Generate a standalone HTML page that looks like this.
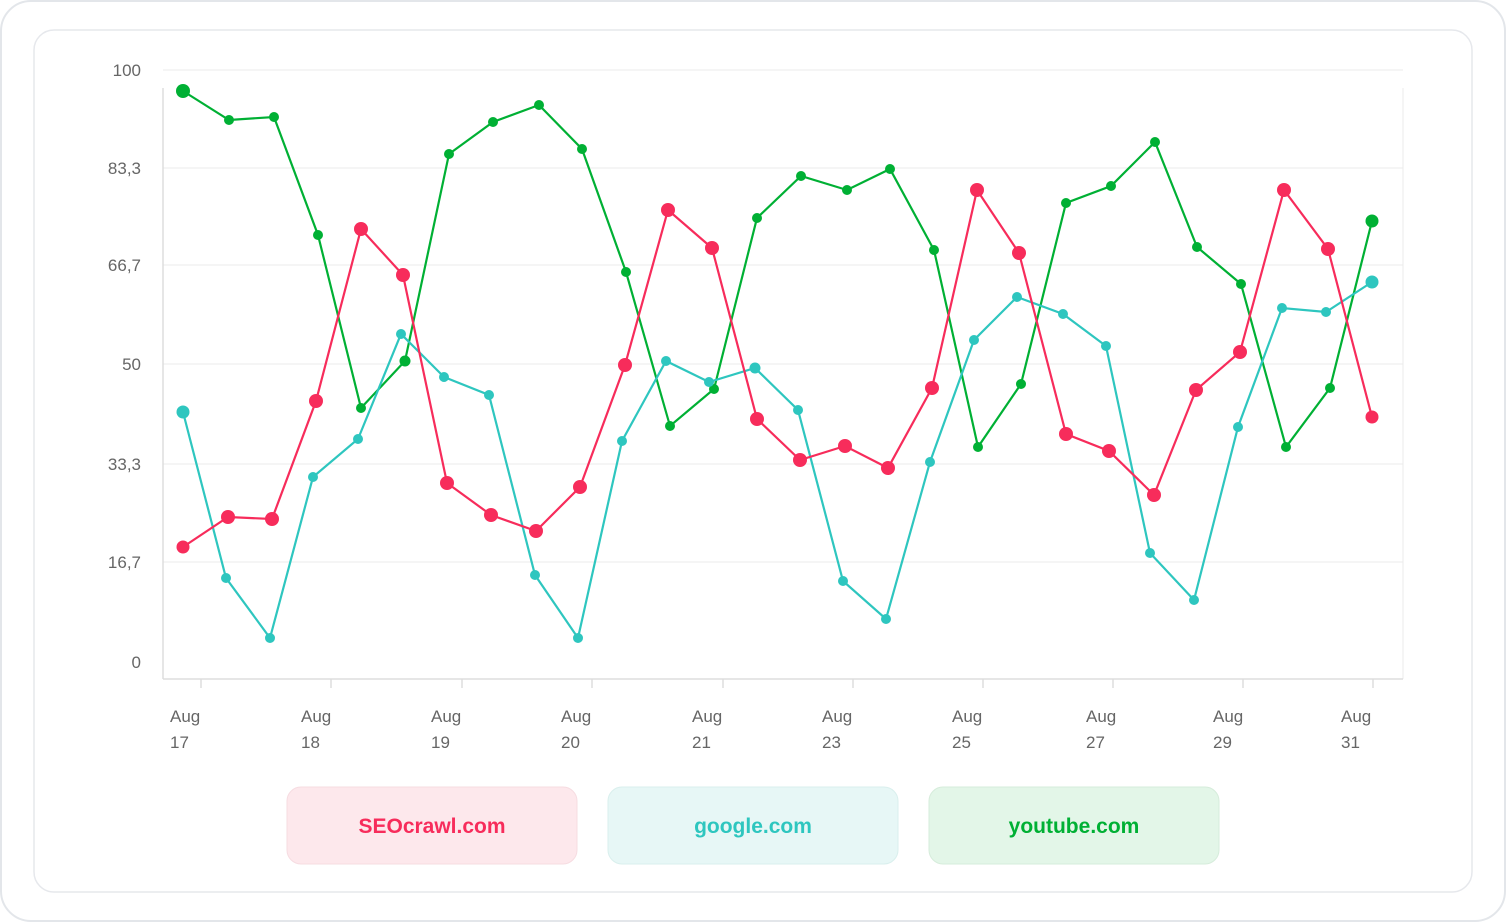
<!DOCTYPE html>
<html><head><meta charset="utf-8"><style>
html,body{margin:0;padding:0;background:#fff;}
svg{display:block;font-family:"Liberation Sans",sans-serif;}
</style></head><body>
<svg width="1506" height="922" viewBox="0 0 1506 922" xmlns="http://www.w3.org/2000/svg">
<rect x="1" y="1" width="1504" height="920" rx="30" fill="#fff" stroke="#e3e6ea" stroke-width="2"/>
<rect x="34" y="30" width="1438" height="862" rx="20" fill="#fff" stroke="#e6e8ec" stroke-width="1.5"/>
<g stroke="#ebebeb" stroke-width="1">
<line x1="163" y1="70" x2="1403" y2="70"/><line x1="163" y1="168" x2="1403" y2="168"/>
<line x1="163" y1="265" x2="1403" y2="265"/><line x1="163" y1="364" x2="1403" y2="364"/>
<line x1="163" y1="464" x2="1403" y2="464"/><line x1="163" y1="562" x2="1403" y2="562"/>
<line x1="1403" y1="88" x2="1403" y2="679"/>
</g>
<g stroke="#dddddd" stroke-width="1.5">
<line x1="163" y1="88" x2="163" y2="679"/><line x1="163" y1="679" x2="1403" y2="679"/>
<line x1="201" y1="679" x2="201" y2="688"/><line x1="331" y1="679" x2="331" y2="688"/><line x1="462" y1="679" x2="462" y2="688"/><line x1="592" y1="679" x2="592" y2="688"/><line x1="723" y1="679" x2="723" y2="688"/><line x1="853" y1="679" x2="853" y2="688"/><line x1="983" y1="679" x2="983" y2="688"/><line x1="1113" y1="679" x2="1113" y2="688"/><line x1="1243" y1="679" x2="1243" y2="688"/><line x1="1373" y1="679" x2="1373" y2="688"/>
</g>
<g fill="#666" font-size="17" text-anchor="end">
<text x="141" y="76">100</text><text x="141" y="174">83,3</text><text x="141" y="271">66,7</text><text x="141" y="370">50</text><text x="141" y="470">33,3</text><text x="141" y="568">16,7</text><text x="141" y="668">0</text>
</g>
<g fill="#666" font-size="17">
<text x="170" y="722">Aug</text><text x="170" y="748">17</text>
<text x="301" y="722">Aug</text><text x="301" y="748">18</text>
<text x="431" y="722">Aug</text><text x="431" y="748">19</text>
<text x="561" y="722">Aug</text><text x="561" y="748">20</text>
<text x="692" y="722">Aug</text><text x="692" y="748">21</text>
<text x="822" y="722">Aug</text><text x="822" y="748">23</text>
<text x="952" y="722">Aug</text><text x="952" y="748">25</text>
<text x="1086" y="722">Aug</text><text x="1086" y="748">27</text>
<text x="1213" y="722">Aug</text><text x="1213" y="748">29</text>
<text x="1341" y="722">Aug</text><text x="1341" y="748">31</text>
</g>
<!-- green -->
<polyline fill="none" stroke="#00b034" stroke-width="2.2" points="183,91 229,120 274,117 318,235 361,408 405,361 449,154 493,122 539,105 582,149 626,272 670,426 714,389 757,218 801,176 847,190 890,169 934,250 978,447 1021,384 1066,203 1111,186 1155,142 1197,247 1241,284 1286,447 1330,388 1372,221"/>
<g fill="#00b034">
<circle cx="183" cy="91" r="7"/><circle cx="229" cy="120" r="5"/><circle cx="274" cy="117" r="5"/><circle cx="318" cy="235" r="5"/><circle cx="361" cy="408" r="5"/><circle cx="405" cy="361" r="5.5"/><circle cx="449" cy="154" r="5"/><circle cx="493" cy="122" r="5"/><circle cx="539" cy="105" r="5"/><circle cx="582" cy="149" r="5"/><circle cx="626" cy="272" r="5"/><circle cx="670" cy="426" r="5"/><circle cx="714" cy="389" r="5"/><circle cx="757" cy="218" r="5"/><circle cx="801" cy="176" r="5"/><circle cx="847" cy="190" r="5"/><circle cx="890" cy="169" r="5"/><circle cx="934" cy="250" r="5"/><circle cx="978" cy="447" r="5"/><circle cx="1021" cy="384" r="5"/><circle cx="1066" cy="203" r="5"/><circle cx="1111" cy="186" r="5"/><circle cx="1155" cy="142" r="5"/><circle cx="1197" cy="247" r="5"/><circle cx="1241" cy="284" r="5"/><circle cx="1286" cy="447" r="5"/><circle cx="1330" cy="388" r="5"/><circle cx="1372" cy="221" r="6.5"/>
</g>
<!-- teal -->
<polyline fill="none" stroke="#2ec6bf" stroke-width="2.2" points="183,412 226,578 270,638 313,477 358,439 401,334 444,377 489,395 535,575 578,638 622,441 666,361 709,382 755,368 798,410 843,581 886,619 930,462 974,340 1017,297 1063,314 1106,346 1150,553 1194,600 1238,427 1282,308 1326,312 1372,282"/>
<g fill="#2ec6bf">
<circle cx="183" cy="412" r="6.5"/><circle cx="226" cy="578" r="5"/><circle cx="270" cy="638" r="5"/><circle cx="313" cy="477" r="5"/><circle cx="358" cy="439" r="5"/><circle cx="401" cy="334" r="5"/><circle cx="444" cy="377" r="5"/><circle cx="489" cy="395" r="5"/><circle cx="535" cy="575" r="5"/><circle cx="578" cy="638" r="5"/><circle cx="622" cy="441" r="5"/><circle cx="666" cy="361" r="5"/><circle cx="709" cy="382" r="5"/><circle cx="755" cy="368" r="5.5"/><circle cx="798" cy="410" r="5"/><circle cx="843" cy="581" r="5"/><circle cx="886" cy="619" r="5"/><circle cx="930" cy="462" r="5"/><circle cx="974" cy="340" r="5"/><circle cx="1017" cy="297" r="5"/><circle cx="1063" cy="314" r="5"/><circle cx="1106" cy="346" r="5"/><circle cx="1150" cy="553" r="5"/><circle cx="1194" cy="600" r="5"/><circle cx="1238" cy="427" r="5"/><circle cx="1282" cy="308" r="5"/><circle cx="1326" cy="312" r="5"/><circle cx="1372" cy="282" r="6.5"/>
</g>
<!-- red -->
<polyline fill="none" stroke="#f72c5b" stroke-width="2.2" points="183,547 228,517 272,519 316,401 361,229 403,275 447,483 491,515 536,531 580,487 625,365 668,210 712,248 757,419 800,460 845,446 888,468 932,388 977,190 1019,253 1066,434 1109,451 1154,495 1196,390 1240,352 1284,190 1328,249 1372,417"/>
<g fill="#f72c5b">
<circle cx="183" cy="547" r="6.5"/><circle cx="228" cy="517" r="7"/><circle cx="272" cy="519" r="7"/><circle cx="316" cy="401" r="7"/><circle cx="361" cy="229" r="7"/><circle cx="403" cy="275" r="7"/><circle cx="447" cy="483" r="7"/><circle cx="491" cy="515" r="7"/><circle cx="536" cy="531" r="7"/><circle cx="580" cy="487" r="7"/><circle cx="625" cy="365" r="7"/><circle cx="668" cy="210" r="7"/><circle cx="712" cy="248" r="7"/><circle cx="757" cy="419" r="7"/><circle cx="800" cy="460" r="7"/><circle cx="845" cy="446" r="7"/><circle cx="888" cy="468" r="7"/><circle cx="932" cy="388" r="7"/><circle cx="977" cy="190" r="7"/><circle cx="1019" cy="253" r="7"/><circle cx="1066" cy="434" r="7"/><circle cx="1109" cy="451" r="7"/><circle cx="1154" cy="495" r="7"/><circle cx="1196" cy="390" r="7"/><circle cx="1240" cy="352" r="7"/><circle cx="1284" cy="190" r="7"/><circle cx="1328" cy="249" r="7"/><circle cx="1372" cy="417" r="6.5"/>
</g>
<!-- legend -->
<rect x="287" y="787" width="290" height="77" rx="14" fill="#fde8ec" stroke="#f6dce1"/>
<rect x="608" y="787" width="290" height="77" rx="14" fill="#e7f7f6" stroke="#d9efed"/>
<rect x="929" y="787" width="290" height="77" rx="14" fill="#e3f6e8" stroke="#d6ecdb"/>
<g font-size="21" font-weight="bold" text-anchor="middle">
<text x="432" y="833" fill="#f72c5b">SEOcrawl.com</text>
<text x="753" y="833" fill="#2ec6bf">google.com</text>
<text x="1074" y="833" fill="#00b034">youtube.com</text>
</g>
</svg>
</body></html>
